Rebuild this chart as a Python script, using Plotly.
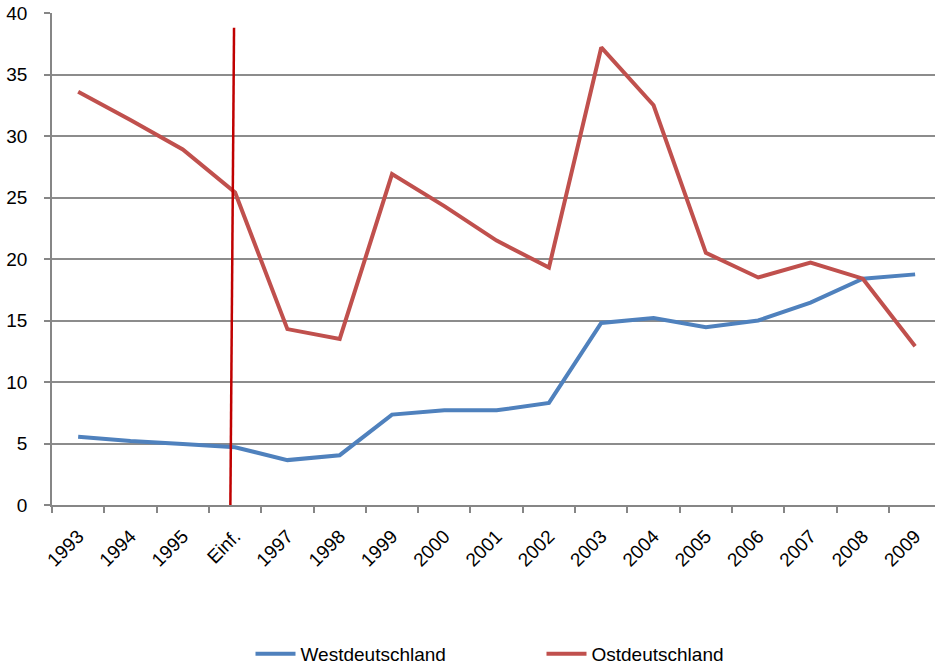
import plotly.graph_objects as go

jahre = ["1993", "1994", "1995", "Einf.", "1997", "1998", "1999", "2000", "2001",
         "2002", "2003", "2004", "2005", "2006", "2007", "2008", "2009"]
westdeutschland = [5.55, 5.2, 4.95, 4.7, 3.65, 4.05, 7.35, 7.7, 7.7,
                   8.3, 14.8, 15.2, 14.45, 15.0, 16.45, 18.4, 18.75]
ostdeutschland = [33.6, 31.3, 28.9, 25.4, 14.3, 13.5, 26.9, 24.3, 21.5,
                  19.3, 37.2, 32.5, 20.5, 18.5, 19.7, 18.4, 12.9]

# Markierung der Einfuehrung (Kategorie-Index, Wert)
einf_x = [2.91, 2.98]
einf_y = [0, 38.8]

font = "Liberation Sans, Arial, sans-serif"

fig = go.Figure()
fig.add_trace(go.Scatter(x=jahre, y=westdeutschland, mode="lines", name="Westdeutschland",
                         line=dict(color="#4F81BD", width=4)))
fig.add_trace(go.Scatter(x=jahre, y=ostdeutschland, mode="lines", name="Ostdeutschland",
                         line=dict(color="#C0504D", width=4)))

fig.add_shape(type="line", xref="x", yref="y",
              x0=einf_x[0], y0=einf_y[0], x1=einf_x[1], y1=einf_y[1],
              line=dict(color="#C00000", width=2.5), layer="above")

fig.update_xaxes(type="category", range=[-0.5, 16.38], tickson="boundaries",
                 ticks="outside", ticklen=6, tickcolor="#868686", tickwidth=1.5,
                 showline=True, linecolor="#868686", linewidth=1.5,
                 showgrid=False, tickangle=-45, automargin=False,
                 ticklabelstandoff=11,
                 tickfont=dict(family=font, size=19, color="#000000"))
fig.update_yaxes(range=[0, 40], dtick=5, ticks="outside", ticklen=6,
                 tickcolor="#868686", tickwidth=1.5,
                 showline=True, linecolor="#868686", linewidth=1.5,
                 showgrid=True, gridcolor="#8C8C8C", gridwidth=1.5,
                 zeroline=False, automargin=False, ticklabeloverflow="allow",
                 ticklabelstandoff=13,
                 tickfont=dict(family=font, size=19, color="#000000"))

fig.update_layout(
    width=936, height=669,
    margin=dict(l=52, r=1, t=13, b=164),
    plot_bgcolor="white", paper_bgcolor="white",
    font=dict(family=font, size=19, color="#000000"),
    showlegend=True,
    legend=dict(orientation="h", x=0.2248, xanchor="left",
                yref="container", y=0.0224, yanchor="middle",
                itemwidth=40, entrywidth=236, entrywidthmode="pixels",
                font=dict(family=font, size=19, color="#000000")),
)

# remove the default body margin so the figure fills the window
fig.write_html("out.html", config={"displayModeBar": False},
               post_script="document.body.style.margin='0px';")
